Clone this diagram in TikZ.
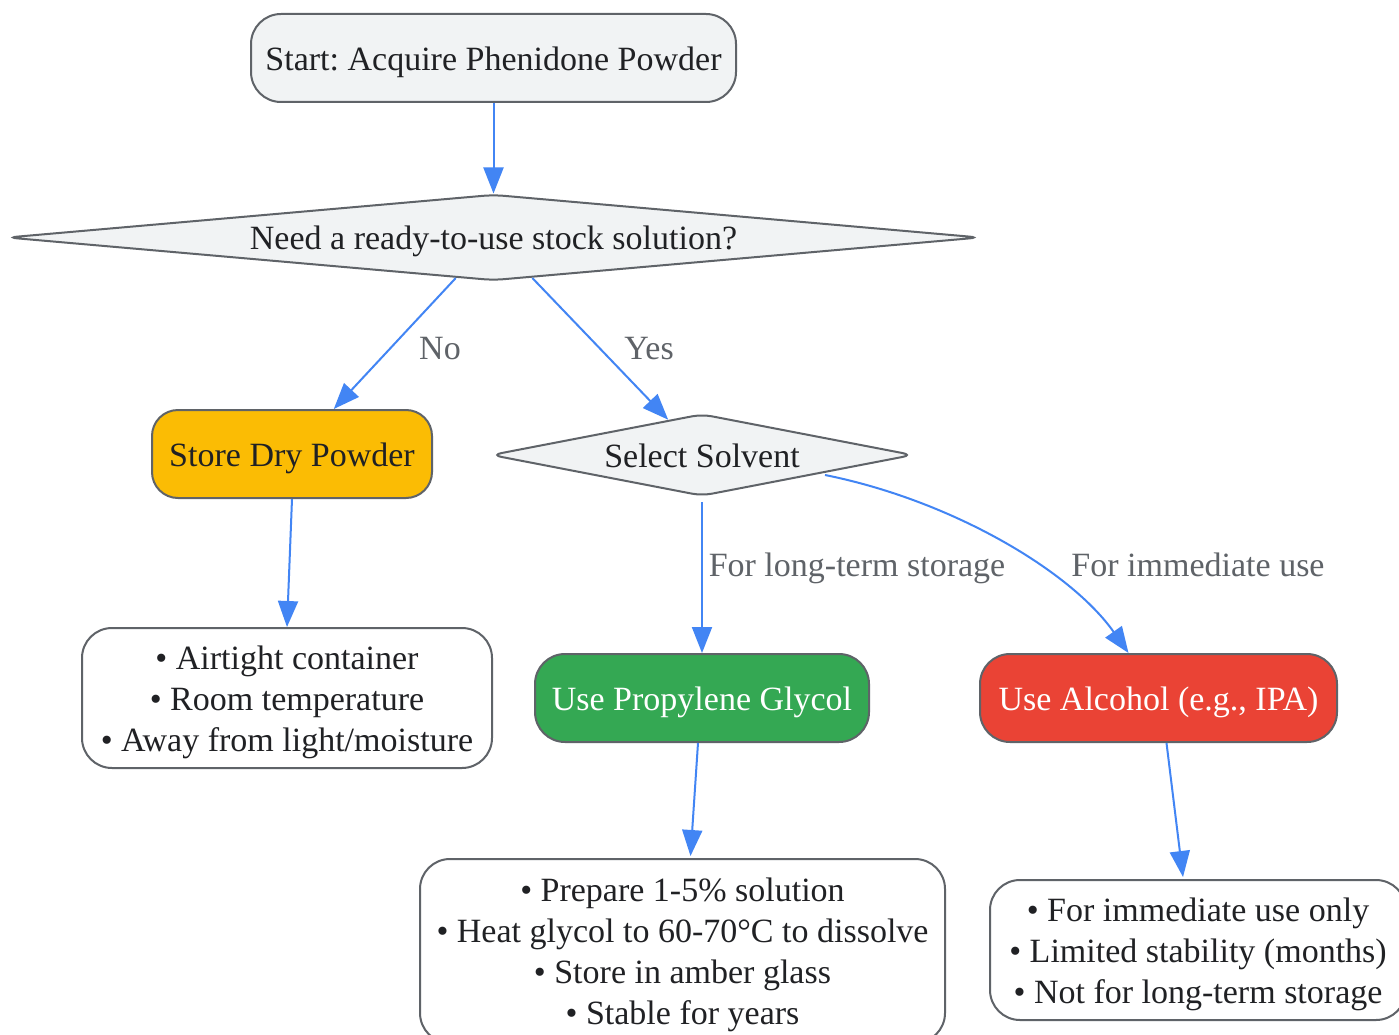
\documentclass[tikz,border=0pt]{standalone}
\usepackage{fontspec}
\setmainfont{Liberation Serif}
\frenchspacing
\usetikzlibrary{shapes.geometric,arrows.meta,calc}
\definecolor{bordc}{HTML}{5F6368}
\definecolor{greyfill}{HTML}{F1F3F4}
\definecolor{arrc}{HTML}{4285F4}
\definecolor{lblc}{HTML}{5F6368}
\definecolor{txtc}{HTML}{202124}
\definecolor{yel}{HTML}{FBBC04}
\definecolor{grn}{HTML}{34A853}
\definecolor{rd}{HTML}{EA4335}
\newcommand{\tup}{\rule{0pt}{32pt}}
\tikzset{
  base/.style={draw=bordc, line width=2pt, inner sep=0pt, text=txtc,
    font=\fontsize{34}{41}\selectfont, align=center},
  rbox/.style={base, rectangle, rounded corners=30pt},
  dbox/.style={base, diamond, rounded corners=10pt, fill=greyfill},
  arr/.style={draw=arrc, line width=2pt, -{Triangle[length=26pt,width=20pt]}},
  lbl/.style={text=lblc, font=\fontsize{34}{41}\selectfont, inner sep=0pt,
    text height=23pt, text depth=8pt},
}
\begin{document}
\begin{tikzpicture}[x=1pt,y=-1pt]
\useasboundingbox (0,0) rectangle (1399,1035);
\fill[white] (0,0) rectangle (1399,1035);

\node[rbox, fill=greyfill, minimum width=485pt, minimum height=88pt] (start) at (493.5,58) {\tup Start: Acquire Phenidone Powder};
\node[dbox, aspect=11, minimum width=973pt, minimum height=86pt] (d1) at (493.5,237.5) {\tup Need a ready-to-use stock solution?};
\node[rbox, fill=yel, rounded corners=26pt, minimum width=280pt, minimum height=88pt] (store) at (292,454) {\tup Store Dry Powder};
\node[dbox, aspect=5, minimum width=422pt, minimum height=82pt] (sel) at (702,455) {\rule{0pt}{26pt}Select Solvent};
\node[rbox, fill=white, minimum width=410pt, minimum height=140pt] (air) at (287,698) {\tup • Airtight container\\• Room temperature\\• Away from light/moisture};
\node[rbox, fill=grn, text=white, minimum width=334pt, minimum height=88pt] (gly) at (702,698) {\tup Use Propylene Glycol};
\node[rbox, fill=rd, text=white, minimum width=357pt, minimum height=88pt] (alc) at (1158.5,698) {\tup Use Alcohol (e.g., IPA)};
\node[rbox, fill=white, minimum width=525pt, minimum height=184pt] (gbox) at (682.5,951) {\tup • Prepare 1-5\% solution\\• Heat glycol to 60-70°C to dissolve\\• Store in amber glass\\• Stable for years};
\node[rbox, fill=white, minimum width=416pt, minimum height=140pt] (abox) at (1198,950) {\tup • For immediate use only\\• Limited stability (months)\\• Not for long-term storage};

\draw[arr] (start.south) -- (d1.north);
\draw[arr] (d1) -- (store);
\draw[arr] (d1) -- (sel);
\draw[arr] (store.south) -- (air.north);
\draw[arr] ($(sel.south)+(0,5)$) -- (gly.north);
\coordinate (selout) at ($(sel.center)+(123,20)$);
\coordinate (alcin) at ($(alc.north)+(-30,0)$);
\draw[arr] (selout) .. controls (950,500) and (1070,570) .. (alcin);
\draw[arr] ($(gly.south)+(-4,0)$) -- ($(gbox.north)+(8,-2)$);
\draw[arr] ($(alc.south)+(8,0)$) -- ($(abox.north)+(-15,-2)$);

\node[lbl] (lno) at (440,352) {No};
\node[lbl] (lyes) at (649,352) {Yes};
\node[lbl] (llong) at (857,569) {For long-term storage};
\node[lbl] (limm) at (1198,569) {For immediate use};
\end{tikzpicture}
\end{document}
